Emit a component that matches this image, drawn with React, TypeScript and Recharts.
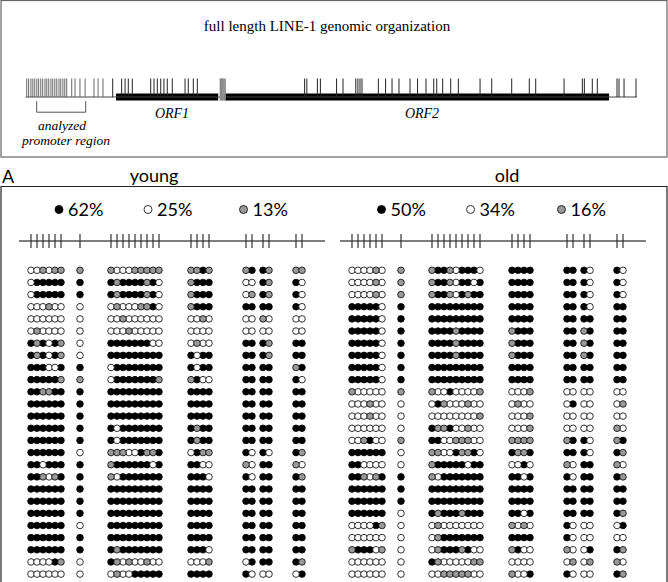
import React from 'react';
import { ScatterChart, Scatter, XAxis, YAxis, ReferenceLine, ReferenceArea } from 'recharts';

// LINE-1 map, positions in bp
const promoterCpG = [21, 40, 63, 82, 101, 122, 140, 161, 180, 203, 221, 240, 262, 280, 301, 320, 342, 360, 381, 400, 419, 469, 502, 551, 602, 691, 731, 780];
const bodyCpG = [877, 966, 1000, 1032, 1072, 1255, 1288, 1321, 1355, 1387, 1420, 1470, 1597, 1629, 1679, 1719,
  2787, 2809, 2914, 2944, 3105, 3169, 3296, 3317, 3338, 3358, 3521, 3593, 3657, 3726, 3836, 3911, 3995, 4072, 4102,
  4161, 4241, 4317, 4533, 4649, 4848, 5023, 5087, 5369, 5551, 5571, 5650, 5700, 5896, 5916, 5966, 6085];
const spacerCpG = [1948, 1958, 1966, 1975, 1985, 1996];
const orf1 = [910, 1927];
const orf2 = [1991, 5817];
const l1Span = [10, 6095];
const analyzedSpan = [120, 608];

// CpG sites of the analyzed promoter amplicon (relative bp)
const cpgSites = [12, 18, 24, 30, 36, 42, 61, 92, 98, 104, 110, 116, 122, 128, 134, 140, 172, 178, 184, 190, 227, 233, 244, 250, 277, 283];

// one string per clone: b = methylated, w = unmethylated, g = not determined
const youngClones = [
  'wwgwgg g gwwwggggg ggbg gb bg gg',
  'wbbbbb b bgbbbbgbw gbbb ww bg bw',
  'wbbbbb b bgbbbbgbw gbbb wg bg bw',
  'wwwgww w wgwwwggbw gbbb bb bb bw',
  'wwwwww w wwgwwwwww wwgw ww gw ww',
  'wgwwww w wwwgwwwww wwww ww ww ww',
  'bgbwbg w bbbbbbbww wgww bb bg bb',
  'bgbwbg w bbbbbbbbb bwbb bb bg bb',
  'bbbwwb b wbbbbbbbb bwbb bb bb gb',
  'bbbbbg g wbbbbbbbg gbww bb bb bw',
  'bbggbb b bbbbbbbbb bbbb bb bb bb',
  'bbbbbb b bbbbbbbbb bbbb bb bb bb',
  'bbbbbb b bbbbbbbbb bbbb bb bb bb',
  'bbbbbb b bwbbbbbbb bgbb bb bb bb',
  'bbbbbb b bwbbbbbbb bgbb bb bb bb',
  'bbbbbb w gggwwbggb wbgg bw bw bg',
  'bbwbbb b gbbbbbbwb bbww gw bb gw',
  'bbgwgb b gwbbbbbbb bbbw bw bb bg',
  'bbbbbb b bbbbbbbbb bbbb bb bb bb',
  'bbbbbb b bbbbbbbbb bbbb bb bb bb',
  'bbbbbb b bbbbbbbbb bbbb bb bb bb',
  'bbbbbb w bbbbbbbbb bbbb bb bb bb',
  'bbbbbb b bbbbbbbbb bbbb bb bb bb',
  'bbbbbb b bgbbbbbbb bbbw bb bb bb',
  'wwwwbg w bgwgwwgww wwwg wb bb bg',
  'wwwwww w wgwwbbbbb bbbb bw ww wb',
];

const oldClones = [
  'wwwwgw g gbbgwbbbw bbbb bb bw bw',
  'wwwwgw g gbbgwbbwb bbbb bb bw bw',
  'wwwwgw g gbbgwbgbb bbbb bb bw bw',
  'bbbbbw b bbbbbbbbb bbbb bb bw bb',
  'bbbbbw b bbbbbbbbb bbbb bb bb bb',
  'bbbbbw b bbbbgbbbb gbbb bb gb bb',
  'bbbbbw b bbbbgbbbb gbbb bb gb bb',
  'bbbbbw b bbbbgbbbb gbbb bb gb bb',
  'bbbbbw b bbbbbbbbb bbbb bb bb bb',
  'bbbbbw b bbbbbbbbb bbbb bb bb bb',
  'gwwwww g gwwbwwwwg wwwg ww ww ww',
  'wwwgww w wbgwwwgww wgww wb ww wg',
  'wwwgww w wwwwwwwwg wwwg ww ww ww',
  'wwwwww w bggbwwgww wwwg ww ww gw',
  'wwgbww g bbwwgggww gggg gb bw gb',
  'bbbbbb w ggwwbggbw bggb bb bw bg',
  'bbwwww w gbbbbbwbb wwbw gw bb gw',
  'bbgwgb b gwbbbbbbb bbwb bw bb bg',
  'bbbbbb b bbbbbbbbb bbbb bb bb bb',
  'bbbbbb b bbbbbbbbb bbbb bb bb bb',
  'bbbbbb w bgbbbgbbb bbwb bb bb bg',
  'wwwwbg w wgwwwwwww gwgw bw ww wb',
  'wwwwww w wgbbbbbbb bbbb bw ww ww',
  'gbbbwg w wgbbbgbww gbww gw wb bg',
  'wwwwww w bgwwwwwgg wwww wg wg gw',
  'wwwwww w wwgggggww gwwb bw ww bg',
];

const youngPct = [62, 25, 13];
const oldPct = [50, 34, 16];

const SANS = 'Lato, sans-serif';
const SERIF = '"Liberation Serif", "Times New Roman", serif';
const FILL: Record<string, string> = { b: '#000', w: '#fff', g: '#999' };
const HEADER_ROW = -1.41;

const tickShape = (color: string, up: number, down = 0, w = 1) => (p: any) => (
  <line x1={p.cx} x2={p.cx} y1={p.cy + down} y2={p.cy - up} stroke={color} strokeWidth={w} />
);

const dotShape = (fill: string) => (p: any) => (
  <circle cx={p.cx} cy={p.cy} r={3.3} fill={fill} stroke="#000" strokeWidth={0.8} />
);

function L1Map() {
  const pts = (arr: number[]) => arr.map((x) => ({ x, y: 0 }));
  return (
    <div style={{ position: 'absolute', left: 0, top: 57 }}>
      <ScatterChart width={668} height={80} margin={{ top: 0, right: 30.5, bottom: 0, left: 24.6 }}>
        <XAxis type="number" dataKey="x" domain={[0, 6100]} hide allowDataOverflow />
        <YAxis type="number" dataKey="y" domain={[-4, 4]} hide allowDataOverflow />
        <ReferenceLine segment={[{ x: l1Span[0], y: 0 }, { x: l1Span[1], y: 0 }]} stroke="#444" strokeWidth={1} />
        <ReferenceArea x1={orf1[0]} x2={orf1[1]} y1={-0.35} y2={0.35} fill="#000" fillOpacity={1} stroke="none" />
        <ReferenceArea x1={orf2[0]} x2={orf2[1]} y1={-0.35} y2={0.35} fill="#000" fillOpacity={1} stroke="none" />
        <ReferenceLine segment={[{ x: analyzedSpan[0], y: -0.42 }, { x: analyzedSpan[0], y: -1.52 }]} stroke="#555" />
        <ReferenceLine segment={[{ x: analyzedSpan[0], y: -1.52 }, { x: analyzedSpan[1], y: -1.52 }]} stroke="#555" />
        <ReferenceLine segment={[{ x: analyzedSpan[1], y: -0.42 }, { x: analyzedSpan[1], y: -1.52 }]} stroke="#555" />
        <Scatter data={pts(promoterCpG)} shape={tickShape('#666', 18.5)} isAnimationActive={false} />
        <Scatter data={pts(bodyCpG)} shape={tickShape('#222', 18.5)} isAnimationActive={false} />
        <Scatter data={pts(spacerCpG)} shape={tickShape('#888', 18.5, 3.5, 1.4)} isAnimationActive={false} />
      </ScatterChart>
    </div>
  );
}

function ClonePanel({ clones, left }: { clones: string[]; left: number }) {
  const cells = clones.flatMap((row, r) =>
    row.replace(/ /g, '').split('').map((s, c) => ({ x: cpgSites[c], y: r + 1, s }))
  );
  const header = cpgSites.map((x) => ({ x, y: HEADER_ROW }));
  return (
    <div style={{ position: 'absolute', left, top: 228 }}>
      <ScatterChart width={306} height={354} margin={{ top: 0, right: 0, bottom: 0, left: 0 }}>
        <XAxis type="number" dataKey="x" domain={[0, 306]} hide allowDataOverflow />
        <YAxis type="number" dataKey="y" domain={[-2.48, 26.65]} reversed hide allowDataOverflow />
        <ReferenceLine segment={[{ x: 0, y: HEADER_ROW }, { x: 306, y: HEADER_ROW }]} stroke="#000" strokeWidth={1.2} />
        <Scatter data={header} shape={tickShape('#333', 7, 7, 1.2)} isAnimationActive={false} />
        {['b', 'w', 'g'].map((s) => (
          <Scatter key={s} data={cells.filter((d) => d.s === s)} shape={dotShape(FILL[s])} isAnimationActive={false} />
        ))}
      </ScatterChart>
    </div>
  );
}

function LegendRow({ pct, dots }: { pct: number[]; dots: number[] }) {
  return (
    <g>
      {pct.map((v, i) => (
        <g key={i}>
          <circle cx={dots[i]} cy={209.5} r={4} fill={FILL['bwg'[i]]} stroke="#000" strokeWidth={0.8} />
          <text x={dots[i] + 9} y={216} fontFamily={SANS} fontSize={18} fill="#000">{v}%</text>
        </g>
      ))}
    </g>
  );
}

export default function App() {
  return (
    <div style={{ position: 'absolute', left: 0, top: 0, width: 668, height: 582, background: '#fff', overflow: 'hidden' }}>
      <L1Map />
      <ClonePanel clones={youngClones} left={19.3} />
      <ClonePanel clones={oldClones} left={340.3} />
      <svg width={668} height={582} style={{ position: 'absolute', left: 0, top: 0, pointerEvents: 'none' }}>
        <rect x={1} y={0.5} width={666} height={156.5} fill="none" stroke="#666" strokeWidth={1.2} />
        <text x={327} y={31} textAnchor="middle" fontFamily={SERIF} fontSize={15}>full length LINE-1 genomic organization</text>
        <text x={172} y={118} textAnchor="middle" fontFamily={SERIF} fontStyle="italic" fontSize={14}>ORF1</text>
        <text x={422} y={118} textAnchor="middle" fontFamily={SERIF} fontStyle="italic" fontSize={14}>ORF2</text>
        <text x={62} y={130} textAnchor="middle" fontFamily={SERIF} fontStyle="italic" fontSize={13.5}>analyzed</text>
        <text x={66} y={145} textAnchor="middle" fontFamily={SERIF} fontStyle="italic" fontSize={13.5}>promoter region</text>

        <text x={2} y={183} fontFamily={SANS} fontSize={18}>A</text>
        <text x={154} y={182} textAnchor="middle" fontFamily={SANS} fontSize={18}>young</text>
        <text x={507} y={182} textAnchor="middle" fontFamily={SANS} fontSize={18}>old</text>
        <path d="M1 582 V186.5 H667 V582" fill="none" stroke="#222" strokeWidth={1.2} />

        <LegendRow pct={youngPct} dots={[59, 148, 243.5]} />
        <LegendRow pct={oldPct} dots={[381.5, 470.5, 561.5]} />
      </svg>
    </div>
  );
}
